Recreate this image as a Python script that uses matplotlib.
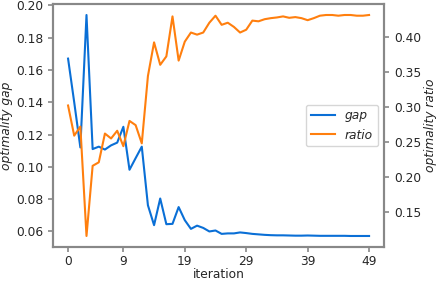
import matplotlib
matplotlib.use('Agg')
import matplotlib.pyplot as plt

iterations = list(range(50))

gap = [0.167, 0.140, 0.112, 0.194, 0.111, 0.1125, 0.1107, 0.1133, 0.115, 0.1248,
       0.0982, 0.1054, 0.1125, 0.0762, 0.0639, 0.0804, 0.0645, 0.0647, 0.0751, 0.067,
       0.0616, 0.0636, 0.0622, 0.0600, 0.0606, 0.0585, 0.0588, 0.0588, 0.0594, 0.0590,
       0.0585, 0.0582, 0.0579, 0.0577, 0.0576, 0.0576, 0.0575, 0.0574, 0.0574, 0.0575,
       0.0574, 0.0573, 0.0573, 0.0573, 0.0573, 0.0573, 0.0572, 0.0572, 0.0572, 0.0572]

ratio = [0.302, 0.259, 0.272, 0.116, 0.216, 0.221, 0.262, 0.255, 0.266, 0.244,
         0.280, 0.274, 0.248, 0.344, 0.392, 0.360, 0.372, 0.429, 0.366, 0.393,
         0.406, 0.403, 0.406, 0.420, 0.430, 0.417, 0.420, 0.414, 0.406, 0.410,
         0.423, 0.422, 0.425, 0.4265, 0.4275, 0.429, 0.427, 0.428, 0.4265, 0.4236,
         0.4265, 0.430, 0.431, 0.431, 0.430, 0.431, 0.431, 0.430, 0.430, 0.431]

xticks = [0, 9, 19, 29, 39, 49]

BLUE = '#0a6fd6'
ORANGE = '#ff7f0e'
SPINE = '#888888'
TEXT = '#262626'
FS = 8.8

plt.rcParams['font.family'] = 'DejaVu Sans'
plt.rcParams['font.size'] = FS

fig = plt.figure(figsize=(4.36, 2.82), dpi=100)
ax = fig.add_axes([0.1216, 0.124, 0.7594, 0.862])
ax2 = ax.twinx()

l1, = ax.plot(iterations, gap, color=BLUE, linewidth=1.5, label='gap')
l2, = ax2.plot(iterations, ratio, color=ORANGE, linewidth=1.5, label='ratio')

ax.set_xticks(xticks)
ax.set_xlabel('iteration', color=TEXT, labelpad=0)
ax.set_ylabel('optimality gap', style='italic', color=TEXT, labelpad=2)
ax2.set_ylabel('optimality ratio', style='italic', color=TEXT, labelpad=2)
ax.set_yticks([0.06, 0.08, 0.10, 0.12, 0.14, 0.16, 0.18, 0.20])
ax2.set_yticks([0.15, 0.20, 0.25, 0.30, 0.35, 0.40])

for a in (ax, ax2):
    for s in a.spines.values():
        s.set_color(SPINE)
        s.set_linewidth(1.5)
    a.tick_params(colors=SPINE, labelcolor=TEXT, length=3.5, width=1.2, labelsize=FS)
ax.tick_params(axis='x', pad=2.5)

leg = ax.legend(handles=[l1, l2], loc='center right', prop={'style': 'italic', 'size': FS})
for t in leg.get_texts():
    t.set_color(TEXT)

fig.savefig('out.png', dpi=100)
